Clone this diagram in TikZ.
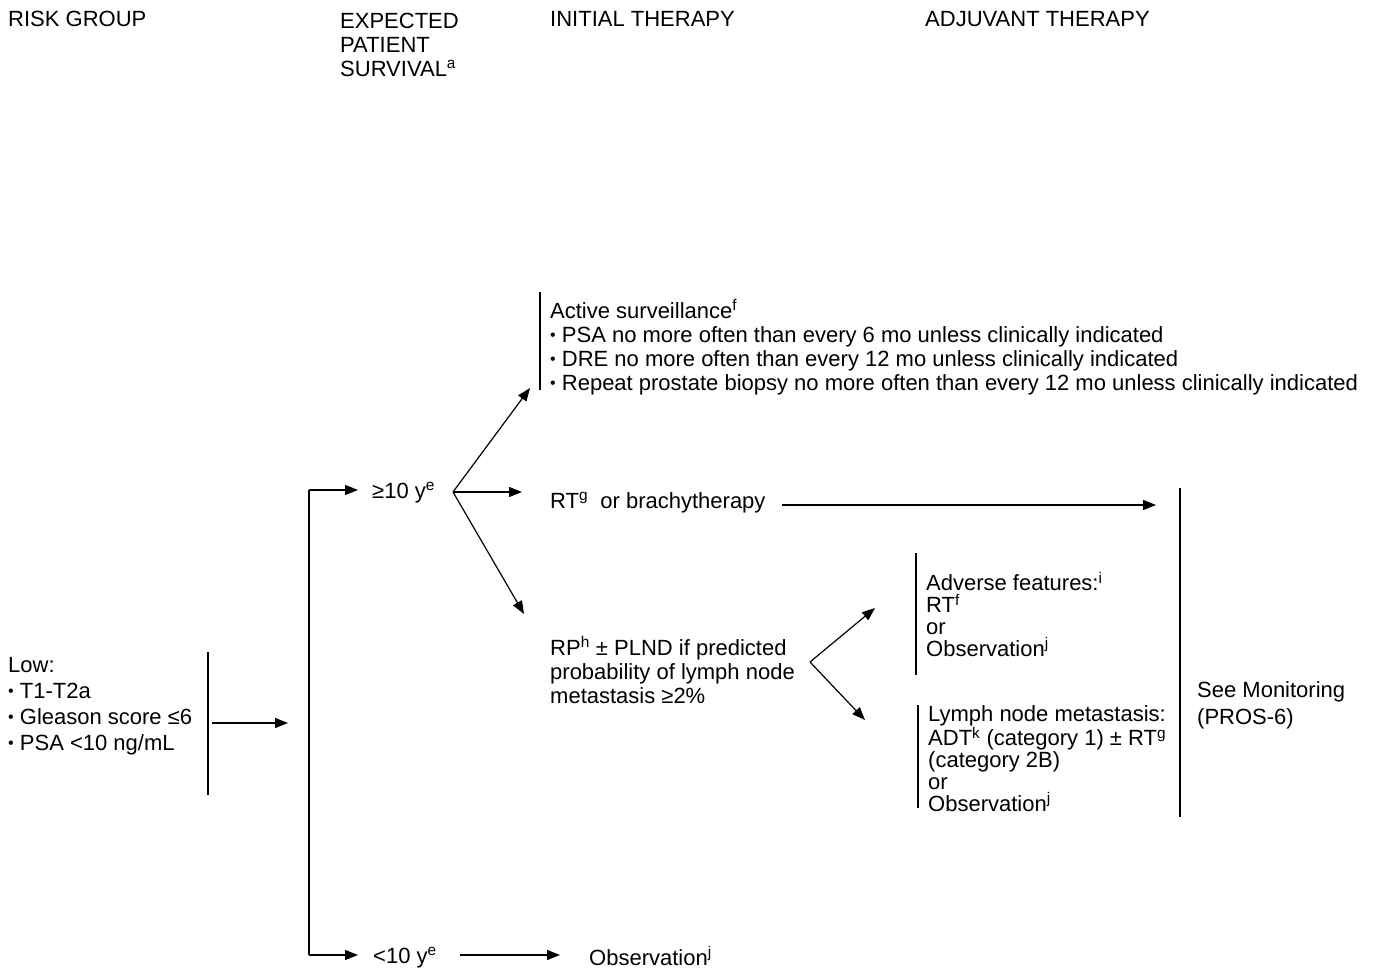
\documentclass[tikz,border=0pt]{standalone}
\usepackage{fontspec}
\setmainfont{Liberation Sans}
\usetikzlibrary{arrows.meta}

\newcommand{\bul}{{\fontsize{16}{16}\selectfont\raisebox{1.5pt}{\textbullet}}\ }

\tikzset{
    txt/.style={inner sep=0pt, anchor=base west, align=left,
        font=\fontsize{22}{24}\selectfont},
    tight/.style={font=\fontsize{22}{21.7}\selectfont},
    bar/.style={line width=1.2pt},
    arr/.style={-{Triangle[length=13pt,width=10pt]}, line width=1.2pt},
}

\begin{document}
\begin{tikzpicture}[x=1pt, y=-1pt]

    \useasboundingbox (0,0) rectangle (1374,967);

    % Column headings (multi-line nodes sit on their last baseline)
    \node[txt] (hRisk) at (8,26) {RISK GROUP};
    \node[txt] (hSurv) at (340,76) {EXPECTED\\PATIENT\\SURVIVAL\textsuperscript{a}};
    \node[txt] (hInit) at (550,26) {INITIAL THERAPY};
    \node[txt] (hAdj) at (925,26) {ADJUVANT THERAPY};

    % Risk group
    \node[txt, font=\fontsize{22}{26}\selectfont] (low) at (8,750)
        {Low:\\\bul T1-T2a\\\bul Gleason score ≤6\\\bul PSA <10 ng/mL};
    \draw[bar] (208,652) -- (208,795);
    \coordinate (lowOut) at (212,723);
    \coordinate (splitIn) at (288,723);
    \draw[arr] (lowOut) -- (splitIn);

    % Expected survival
    \coordinate (splitTop) at (309,490);
    \coordinate (splitBot) at (309,955);
    \draw[bar] (splitTop) -- (splitBot);
    \node[txt] (ge10) at (372,498) {≥10 y\textsuperscript{e}};
    \node[txt] (lt10) at (373,963) {<10 y\textsuperscript{e}};
    \draw[arr] (splitTop) -- (358,490);
    \draw[arr] (splitBot) -- (358,955);

    % Initial therapy
    \node[txt] (active) at (550,390)
        {Active surveillance\textsuperscript{f}\\
         \bul PSA no more often than every 6 mo unless clinically indicated\\
         \bul DRE no more often than every 12 mo unless clinically indicated\\
         \bul Repeat prostate biopsy no more often than every 12 mo unless clinically indicated};
    \draw[bar] (540,292) -- (540,390);
    \node[txt] (rt) at (550,508) {RT\textsuperscript{g}\ \ or brachytherapy};
    \node[txt] (rp) at (550,703)
        {RP\textsuperscript{h} ± PLND if predicted\\probability of lymph node\\metastasis ≥2\%};
    \node[txt] (obs) at (589,965) {Observation\textsuperscript{j}};

    \coordinate (fork1) at (453,492);
    \draw[arr] (fork1) -- (530,388);
    \draw[arr] (fork1) -- (522,492);
    \draw[arr] (fork1) -- (524,614);
    \draw[arr] (460,955) -- (560,955);

    % Adjuvant therapy
    \node[txt, tight] (adverse) at (926,656)
        {Adverse features:\textsuperscript{i}\\RT\textsuperscript{f}\\or\\Observation\textsuperscript{j}};
    \draw[bar] (916,553) -- (916,675);
    \node[txt, tight] (lymph) at (928,811)
        {Lymph node metastasis:\\ADT\textsuperscript{k} (category 1) ± RT\textsuperscript{g}\\(category 2B)\\or\\Observation\textsuperscript{j}};
    \draw[bar] (918,705) -- (918,808);

    \coordinate (fork2) at (810,662);
    \draw[arr] (fork2) -- (875,608);
    \draw[arr] (fork2) -- (865,720);
    \draw[arr] (782,505) -- (1156,505);

    % Monitoring
    \draw[bar] (1180,488) -- (1180,817);
    \node[txt, font=\fontsize{22}{27}\selectfont] (monitor) at (1197,724)
        {See Monitoring\\(PROS-6)};

\end{tikzpicture}
\end{document}
